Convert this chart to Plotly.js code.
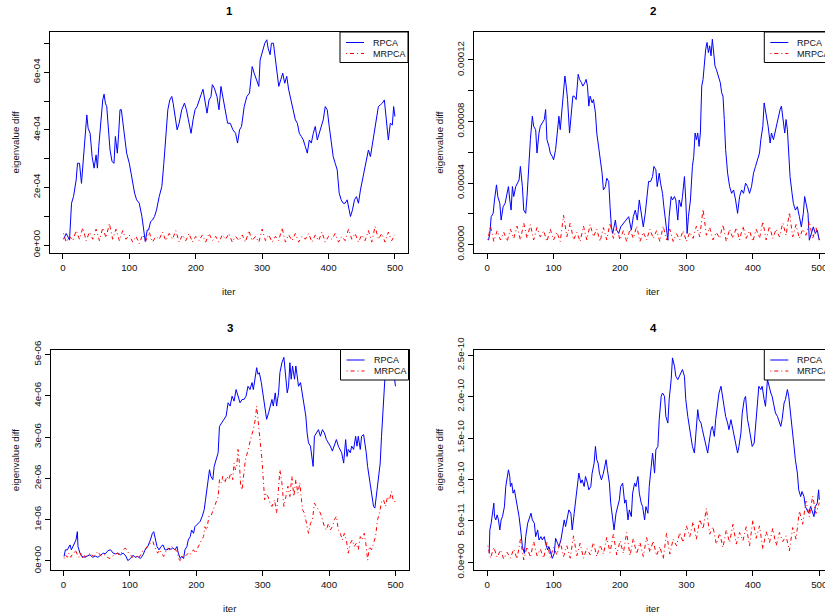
<!DOCTYPE html>
<html><head><meta charset="utf-8">
<script src="https://cdn.plot.ly/plotly-3.0.1.min.js"></script>
<style>html,body{margin:0;padding:0;overflow:hidden;background:#fff;width:825px;height:614px}#chart{width:850px;height:614px}</style>
</head><body><div id="chart"></div>
<script>
// ---------- data: [iter, value] pairs; values in units of the panel scale ----------
const panelTitles = ['1', '2', '3', '4'];
const seriesNames = ['RPCA', 'MRPCA'];
const yScales = [1e-4, 1e-5, 1e-6, 1e-11];

const p1Rpca = [[1,0.2],[5,0.4],[10,0.17],[13,1.45],[16,1.68],[20,2.26],[22,2.84],[25,2.84],[28,2.14],[30,2.78],[33,3.88],[36,4.52],[38,4.06],[41,3.88],[44,3.07],[47,2.67],[50,3.13],[52,2.67],[54,3.42],[57,4.35],[60,5.04],[62,5.24],[64,4.93],[66,4.81],[69,3.88],[71,3.3],[74,2.9],[77,2.84],[79,3.77],[82,3.19],[84,3.88],[86,4.7],[88,4.7],[90,4.35],[93,3.77],[96,3.19],[100,2.84],[104,2.26],[108,1.8],[111,1.57],[115,1.45],[119,0.99],[122,0.52],[124,0.12],[127,0.52],[129,0.52],[132,0.81],[135,0.87],[138,0.99],[141,1.22],[145,1.68],[149,2.03],[152,2.84],[155,3.65],[158,4.7],[161,5.04],[164,5.16],[166,4.93],[169,4.46],[172,4.0],[175,4.23],[179,4.7],[183,4.93],[186,4.7],[189,4.35],[193,3.88],[196,4.35],[199,4.7],[202,4.81],[205,5.04],[208,5.22],[211,5.41],[214,5.04],[217,4.58],[220,5.04],[223,5.16],[225,5.57],[228,5.45],[232,5.16],[235,4.7],[238,5.51],[242,5.04],[245,4.7],[248,4.23],[252,4.23],[256,4.0],[260,3.88],[263,3.54],[266,4.0],[269,4.12],[273,4.81],[277,5.16],[281,5.28],[285,6.2],[288,5.97],[292,5.74],[295,5.51],[297,6.43],[301,6.78],[304,7.01],[307,7.13],[309,6.84],[312,6.61],[314,7.01],[317,7.01],[319,6.67],[322,6.2],[325,5.51],[328,5.74],[331,5.97],[334,5.62],[337,5.86],[340,5.39],[343,5.04],[347,4.7],[350,4.35],[353,4.23],[356,3.88],[359,3.77],[362,3.65],[365,3.42],[368,3.19],[371,3.65],[374,3.54],[377,3.88],[380,4.12],[383,3.65],[386,3.88],[389,4.12],[392,4.35],[395,4.81],[398,4.7],[401,4.12],[404,3.65],[407,3.07],[410,2.84],[413,2.61],[416,1.8],[419,1.57],[422,1.45],[425,1.45],[428,1.57],[431,1.22],[433,0.99],[436,1.22],[439,1.57],[442,1.68],[445,1.45],[448,1.91],[451,2.26],[454,2.61],[457,3.07],[460,3.3],[463,3.07],[466,3.54],[469,3.88],[472,4.46],[475,4.81],[478,4.87],[481,4.93],[484,5.04],[487,4.35],[490,3.65],[493,4.23],[496,4.17],[498,4.81],[500,4.46]];
const p1Mrpca = [[1,0.4],[5,0.1],[10,0.3],[15,0.15],[20,0.5],[25,0.2],[30,0.6],[35,0.15],[40,0.45],[45,0.2],[50,0.55],[55,0.15],[60,0.6],[65,0.25],[70,0.75],[75,0.2],[80,0.55],[85,0.15],[90,0.5],[95,0.2],[100,0.35],[105,0.1],[110,0.3],[115,0.05],[120,0.35],[125,0.15],[130,0.45],[135,0.1],[140,0.3],[145,0.2],[150,0.45],[155,0.15],[160,0.4],[165,0.2],[170,0.5],[175,0.1],[180,0.35],[185,0.15],[190,0.4],[195,0.1],[200,0.3],[205,0.15],[210,0.35],[215,0.1],[220,0.4],[225,0.15],[230,0.3],[235,0.1],[240,0.35],[245,0.2],[250,0.4],[255,0.1],[260,0.3],[265,0.15],[270,0.35],[275,0.1],[280,0.5],[285,0.15],[290,0.3],[295,0.1],[300,0.55],[305,0.15],[310,0.35],[315,0.1],[320,0.3],[325,0.15],[330,0.6],[335,0.1],[340,0.35],[345,0.15],[350,0.4],[355,0.1],[360,0.3],[365,0.2],[370,0.4],[375,0.1],[380,0.35],[385,0.15],[390,0.45],[395,0.1],[400,0.3],[405,0.2],[410,0.4],[415,0.1],[420,0.3],[425,0.15],[430,0.55],[435,0.2],[440,0.4],[445,0.1],[450,0.35],[455,0.15],[460,0.5],[465,0.1],[470,0.65],[475,0.2],[480,0.4],[485,0.1],[490,0.45],[495,0.15],[500,0.35]];

const p2Rpca = [[2,0.28],[4,0.72],[6,1.81],[9,2.03],[11,2.9],[14,3.88],[16,3.12],[19,2.68],[21,1.59],[24,2.46],[27,2.68],[29,3.12],[32,3.77],[34,2.9],[36,2.24],[38,3.77],[40,3.12],[43,3.77],[45,3.99],[48,4.2],[50,5.08],[53,3.77],[55,2.24],[58,2.03],[60,3.12],[63,5.51],[65,6.82],[68,8.34],[70,7.69],[73,7.47],[75,5.95],[78,7.25],[80,7.69],[83,7.91],[86,8.13],[88,8.78],[90,6.82],[93,6.38],[95,5.95],[98,5.73],[100,5.51],[103,6.17],[105,7.25],[108,8.34],[110,7.47],[113,8.78],[115,9.65],[117,10.96],[119,10.3],[121,9.43],[124,7.25],[126,8.13],[129,9.65],[131,9.65],[134,9.43],[137,11.07],[139,10.74],[142,10.52],[144,10.3],[147,10.52],[149,10.74],[151,10.3],[153,9.0],[155,9.65],[158,9.21],[160,9.43],[163,8.56],[165,7.25],[168,6.38],[170,5.73],[173,4.64],[175,3.55],[178,3.77],[180,4.31],[183,4.1],[185,2.46],[187,1.15],[189,0.72],[191,1.15],[193,1.59],[195,0.94],[198,0.72],[201,1.15],[205,1.37],[209,1.59],[213,1.81],[217,0.94],[220,1.81],[223,2.24],[226,1.59],[229,2.9],[232,2.03],[235,1.15],[238,2.03],[241,3.12],[243,4.1],[246,4.1],[249,4.42],[251,5.08],[254,4.86],[256,3.77],[259,4.64],[261,3.99],[264,3.33],[266,2.46],[269,1.37],[272,0.28],[274,1.81],[277,3.12],[279,2.9],[282,3.12],[284,2.9],[287,1.59],[289,2.9],[292,2.46],[294,3.12],[297,4.42],[299,2.9],[301,0.72],[303,1.81],[306,2.9],[309,5.08],[311,5.73],[313,7.25],[315,6.82],[317,7.25],[319,6.38],[321,7.25],[323,10.3],[325,10.74],[327,12.05],[329,12.7],[331,13.14],[333,12.48],[335,12.92],[337,12.27],[339,13.35],[341,12.27],[343,11.61],[345,11.39],[348,10.96],[351,10.52],[353,9.87],[355,9.65],[357,8.13],[359,6.17],[362,4.64],[365,3.77],[368,3.33],[371,3.55],[374,2.9],[377,2.03],[380,3.12],[383,3.55],[386,3.33],[389,3.99],[392,3.77],[395,3.33],[398,3.77],[401,4.64],[404,5.08],[407,5.51],[410,5.95],[412,6.82],[415,7.69],[417,9.21],[419,8.78],[421,8.13],[423,7.69],[426,6.6],[428,7.25],[431,6.82],[434,7.47],[437,7.91],[439,8.56],[441,8.78],[443,9.0],[445,8.34],[448,7.25],[450,8.13],[452,7.47],[454,5.95],[456,4.42],[459,3.33],[461,2.68],[464,2.24],[467,2.46],[470,1.81],[473,1.15],[476,2.03],[478,3.12],[480,2.68],[483,2.03],[485,0.28],[488,0.72],[491,1.15],[494,0.72],[497,0.94],[500,0.28]];
const p2Mrpca = [[1,0.3],[5,1.2],[10,0.2],[15,0.9],[20,0.3],[25,0.8],[30,0.2],[35,1.0],[40,0.4],[45,1.2],[50,0.3],[55,1.4],[60,0.4],[65,1.3],[70,0.3],[75,1.1],[80,0.5],[85,0.9],[90,0.2],[95,1.0],[100,0.3],[105,0.8],[110,0.2],[115,1.9],[120,0.5],[125,1.4],[130,0.3],[135,0.8],[140,0.2],[145,1.2],[150,0.3],[155,1.3],[160,0.5],[165,1.0],[170,0.2],[175,1.1],[180,0.3],[185,1.4],[190,0.4],[195,1.1],[200,0.3],[205,0.9],[210,0.2],[215,1.0],[220,0.4],[225,1.2],[230,0.2],[235,0.8],[240,0.3],[245,1.0],[250,0.4],[255,0.9],[260,0.2],[265,1.2],[270,0.3],[275,1.0],[280,0.2],[285,0.7],[290,0.3],[295,0.9],[300,0.2],[305,0.8],[310,0.4],[315,1.2],[320,0.5],[325,2.3],[330,0.6],[335,1.1],[340,0.3],[345,0.8],[350,0.4],[355,1.3],[360,0.2],[365,1.0],[370,0.4],[375,1.1],[380,0.3],[385,1.2],[390,0.4],[395,0.9],[400,0.2],[405,1.0],[410,0.4],[415,1.5],[420,0.3],[425,1.2],[430,0.4],[435,1.0],[440,0.5],[445,1.4],[450,0.6],[455,2.1],[460,0.5],[465,1.3],[470,0.4],[475,1.0],[480,0.6],[485,1.5],[490,0.4],[495,1.1],[500,0.3]];

const p3Rpca = [[1,0.11],[3,0.27],[6,0.27],[8,0.35],[10,0.39],[12,0.27],[14,0.35],[17,0.43],[19,0.51],[21,0.71],[22,0.35],[25,0.19],[28,0.11],[32,0.09],[36,0.12],[40,0.15],[44,0.09],[48,0.12],[52,0.09],[56,0.15],[60,0.19],[63,0.17],[67,0.25],[71,0.27],[75,0.19],[78,0.17],[82,0.19],[86,0.15],[90,0.19],[94,0.12],[97,0.01],[101,0.06],[105,0.14],[108,0.09],[112,0.11],[116,0.06],[120,0.15],[123,0.27],[127,0.35],[131,0.51],[134,0.67],[136,0.71],[138,0.59],[141,0.35],[144,0.27],[147,0.35],[150,0.39],[153,0.27],[156,0.27],[159,0.31],[162,0.28],[165,0.32],[168,0.27],[171,0.35],[173,0.19],[176,0.06],[178,0.11],[181,0.06],[183,0.27],[186,0.35],[188,0.51],[191,0.59],[193,0.75],[196,0.67],[198,0.83],[201,0.87],[203,0.91],[206,0.96],[209,1.08],[212,1.24],[214,1.48],[217,1.81],[220,2.21],[222,2.05],[225,1.97],[227,2.29],[230,2.45],[233,2.62],[235,3.26],[238,3.34],[241,3.43],[245,3.51],[248,3.83],[251,3.75],[254,3.99],[257,3.87],[260,4.15],[263,3.99],[266,3.83],[269,3.91],[272,3.91],[275,3.99],[278,4.23],[281,4.15],[284,4.32],[286,4.15],[289,4.44],[291,4.68],[293,4.52],[295,4.56],[298,4.32],[300,4.07],[303,3.67],[306,3.43],[309,3.59],[311,3.75],[314,3.91],[316,3.75],[319,4.07],[321,3.75],[324,4.07],[326,4.56],[329,4.8],[332,4.93],[333,4.72],[335,4.4],[337,4.07],[339,4.23],[341,4.8],[343,4.4],[345,4.72],[348,4.4],[350,4.72],[352,4.48],[354,4.23],[357,4.32],[360,3.99],[363,3.75],[365,3.51],[367,3.1],[369,2.86],[372,2.78],[374,2.45],[376,2.29],[378,3.02],[381,3.1],[384,3.18],[387,3.02],[390,3.18],[393,3.1],[396,2.94],[399,2.86],[402,2.78],[405,2.66],[408,2.78],[411,2.94],[414,2.78],[417,2.7],[419,2.62],[422,2.37],[425,2.94],[427,2.53],[429,2.7],[432,2.62],[434,2.78],[437,2.7],[440,3.02],[442,2.78],[444,3.02],[447,2.7],[449,3.02],[452,3.06],[454,2.86],[456,2.62],[458,2.29],[460,2.05],[462,1.81],[465,1.56],[467,1.32],[469,1.28],[471,1.56],[474,2.05],[477,2.37],[479,3.02],[481,3.67],[484,4.4],[486,4.78],[489,4.85],[492,4.64],[495,4.72],[498,4.48],[500,4.23]];
const p3Mrpca = [[1,0.06],[3,0.15],[6,0.09],[8,0.19],[11,0.09],[13,0.15],[16,0.19],[18,0.27],[21,0.15],[23,0.09],[26,0.19],[28,0.06],[31,0.15],[33,0.09],[37,0.15],[41,0.19],[45,0.11],[49,0.19],[52,0.23],[55,0.15],[58,0.11],[62,0.15],[66,0.09],[70,0.06],[73,0.11],[77,0.15],[81,0.19],[84,0.15],[87,0.19],[90,0.27],[93,0.31],[96,0.27],[98,0.19],[101,0.15],[104,0.09],[107,0.12],[110,0.11],[113,0.06],[116,0.15],[118,0.19],[121,0.27],[123,0.28],[126,0.35],[129,0.41],[132,0.43],[135,0.47],[137,0.35],[139,0.27],[142,0.19],[145,0.27],[148,0.19],[151,0.11],[154,0.23],[157,0.31],[160,0.27],[163,0.35],[166,0.28],[169,0.27],[171,0.23],[174,0.04],[176,0.01],[179,0.11],[182,0.09],[185,0.15],[188,0.19],[191,0.15],[193,0.23],[196,0.27],[199,0.19],[202,0.31],[205,0.43],[208,0.51],[211,0.59],[213,0.83],[216,0.75],[219,1.08],[222,1.08],[225,1.2],[228,1.32],[231,1.44],[233,1.56],[235,1.97],[238,1.89],[240,2.05],[243,1.89],[246,2.05],[249,1.97],[252,2.13],[255,1.97],[257,2.37],[259,2.21],[261,2.29],[263,2.7],[265,2.37],[267,1.81],[269,1.72],[271,2.05],[274,2.45],[277,2.62],[280,2.86],[283,3.02],[286,3.18],[289,3.43],[291,3.75],[293,3.43],[295,3.18],[297,2.7],[299,2.45],[301,1.97],[303,1.48],[305,1.64],[308,1.56],[311,1.4],[314,1.32],[318,1.48],[321,1.16],[323,1.56],[326,2.21],[329,1.89],[332,1.32],[335,1.56],[338,1.81],[341,1.56],[344,2.05],[347,1.56],[350,1.97],[353,1.64],[356,1.89],[360,1.24],[363,1.16],[366,0.91],[369,0.67],[372,0.91],[375,1.0],[378,1.4],[381,1.32],[384,1.24],[387,1.16],[390,1.0],[393,0.83],[396,0.75],[399,0.91],[402,0.75],[405,0.83],[408,1.0],[411,1.08],[414,0.75],[417,0.67],[420,0.51],[423,0.67],[426,0.51],[429,0.19],[432,0.43],[435,0.51],[438,0.35],[441,0.43],[444,0.27],[447,0.59],[450,0.51],[453,0.67],[456,0.35],[458,0.02],[461,0.35],[464,0.27],[467,0.43],[470,0.59],[473,1.0],[476,1.16],[479,1.44],[482,1.48],[485,1.32],[488,1.56],[491,1.48],[494,1.68],[497,1.44],[500,1.44]];

const p4Rpca = [[3,1.09],[4,3.91],[6,4.72],[8,5.93],[10,7.14],[11,5.52],[13,5.12],[15,5.73],[17,5.12],[19,3.91],[21,5.12],[23,5.52],[26,6.73],[28,9.15],[30,10.36],[32,11.17],[34,10.36],[35,9.15],[37,9.56],[39,8.35],[41,8.75],[44,7.54],[46,6.73],[48,5.52],[51,3.51],[53,1.9],[56,1.09],[58,3.1],[61,4.72],[63,5.12],[66,5.93],[68,5.12],[71,4.72],[73,3.1],[76,3.91],[78,2.7],[81,3.1],[83,2.7],[86,3.1],[88,2.3],[91,1.49],[93,1.9],[96,1.09],[98,0.48],[101,1.09],[103,2.9],[106,2.3],[108,1.9],[111,2.7],[113,3.51],[116,5.12],[118,4.31],[121,5.52],[123,6.33],[126,5.93],[128,3.91],[131,5.93],[133,7.54],[136,9.15],[138,10.77],[141,9.56],[143,9.96],[146,9.15],[148,10.36],[151,9.56],[153,8.75],[156,9.15],[158,10.77],[161,11.98],[163,13.99],[165,12.38],[167,11.98],[169,10.77],[172,9.96],[175,10.77],[177,11.57],[179,12.38],[181,11.17],[184,9.56],[186,7.14],[189,5.52],[191,3.91],[194,5.93],[196,6.73],[199,7.54],[201,9.15],[204,9.56],[207,7.14],[209,7.54],[212,5.12],[214,6.33],[217,5.52],[219,8.35],[222,9.56],[224,9.15],[227,10.36],[229,8.35],[232,7.14],[234,6.73],[237,5.12],[239,6.73],[242,5.93],[244,9.15],[247,11.57],[249,13.19],[252,10.77],[254,13.59],[257,13.99],[259,17.22],[262,20.04],[264,20.44],[267,20.04],[269,17.62],[272,16.81],[274,19.64],[277,22.06],[279,24.68],[282,23.67],[284,22.46],[287,22.06],[289,22.46],[292,22.86],[294,23.27],[297,22.46],[299,19.64],[302,17.62],[304,16.41],[307,14.8],[309,13.99],[312,13.19],[314,15.6],[317,18.43],[319,17.22],[322,16.81],[324,16.01],[327,14.8],[329,13.99],[332,13.19],[334,14.4],[337,16.01],[339,16.41],[342,15.2],[344,17.22],[347,18.83],[349,20.44],[352,21.25],[354,20.04],[357,18.43],[359,17.62],[362,16.81],[364,16.01],[367,17.22],[369,16.41],[372,15.6],[374,14.4],[377,13.19],[379,13.99],[382,15.6],[384,18.02],[387,19.64],[389,20.04],[392,17.22],[394,16.41],[397,14.8],[399,13.99],[402,14.4],[404,16.41],[407,18.83],[409,21.25],[412,20.85],[414,21.25],[417,19.64],[419,18.83],[422,22.06],[424,21.25],[427,20.44],[429,20.04],[432,18.83],[434,18.02],[437,17.62],[439,17.22],[442,16.41],[444,17.22],[447,19.23],[449,19.64],[452,20.85],[454,20.04],[457,18.02],[459,16.01],[462,13.99],[464,12.38],[467,10.77],[469,8.75],[472,7.94],[474,8.55],[477,7.94],[479,6.73],[482,6.33],[484,5.93],[487,6.73],[489,6.13],[492,5.52],[494,6.73],[497,7.14],[499,8.75],[500,7.54]];
const p4Mrpca = [[1,2.0],[5,0.5],[10,1.8],[15,0.6],[20,1.5],[25,0.4],[30,1.2],[35,0.5],[40,1.6],[45,0.4],[50,2.8],[55,0.3],[60,1.9],[65,0.6],[70,2.5],[75,0.8],[80,1.6],[85,0.5],[90,2.4],[95,0.6],[100,1.8],[105,0.9],[110,2.5],[115,0.7],[120,2.0],[125,0.5],[130,3.2],[135,0.8],[140,2.3],[145,0.5],[150,1.7],[155,0.9],[160,2.4],[165,0.7],[170,2.1],[175,1.0],[180,3.0],[185,1.2],[190,3.4],[195,0.9],[200,2.6],[205,1.1],[210,3.6],[215,0.8],[220,2.9],[225,1.0],[230,2.4],[235,0.7],[240,3.0],[245,1.2],[250,2.6],[255,0.8],[260,1.9],[265,0.4],[270,3.5],[275,1.0],[280,2.8],[285,2.0],[290,3.6],[295,2.4],[300,4.4],[305,3.1],[310,4.9],[315,2.8],[320,5.2],[325,4.0],[330,6.5],[335,3.4],[340,4.3],[345,2.2],[350,3.5],[355,1.8],[360,3.9],[365,2.4],[370,4.6],[375,2.2],[380,3.6],[385,2.6],[390,4.3],[395,2.0],[400,5.1],[405,2.9],[410,4.4],[415,1.6],[420,3.7],[425,2.4],[430,4.1],[435,2.0],[440,3.6],[445,2.5],[450,3.2],[455,1.4],[460,4.2],[465,2.8],[470,6.2],[475,4.6],[480,7.4],[485,5.5],[490,8.0],[495,5.9],[500,7.2]];

const xTickVals = [0, 100, 200, 300, 400, 500];
const xTickText = ['0', '100', '200', '300', '400', '500'];
const yTickVals = [
  [0, 1e-4, 2e-4, 3e-4, 4e-4, 5e-4, 6e-4, 7e-4],
  [0, 2e-5, 4e-5, 6e-5, 8e-5, 10e-5, 12e-5],
  [0, 1e-6, 2e-6, 3e-6, 4e-6, 5e-6],
  [0, 5e-11, 10e-11, 15e-11, 20e-11, 25e-11]
];
const yTickText = [
  ['0e+00', '', '2e-04', '', '4e-04', '', '6e-04', ''],
  ['0.00000', '', '0.00004', '', '0.00008', '', '0.00012'],
  ['0e+00', '1e-06', '2e-06', '3e-06', '4e-06', '5e-06'],
  ['0.0e+00', '5.0e-11', '1.0e-10', '1.5e-10', '2.0e-10', '2.5e-10']
];
const xAxisTitle = 'iter';
const yAxisTitle = 'eigenvalue diff';

// ---------- layout geometry (pixels) ----------
const W = 850, H = 614;
const boxes = [
  {L: 50, R: 408, T: 32, B: 253},
  {L: 474.3, R: 832.3, T: 32, B: 253},
  {L: 50.5, R: 408.5, T: 349.5, B: 570},
  {L: 474.3, R: 832.3, T: 349.5, B: 570}
];
const xRange = [-19.4, 519.6];
const yRanges = [[-0.278e-4, 7.40e-4], [-0.55e-5, 13.82e-5], [-0.218e-6, 5.12e-6], [-0.925e-11, 25.69e-11]];
const titleY = [11, 11, 328, 328];
const xTitleY = [291, 291, 608, 608];

const rpcaSeries = [p1Rpca, p2Rpca, p3Rpca, p4Rpca];
const mrpcaSeries = [p1Mrpca, p2Mrpca, p3Mrpca, p4Mrpca];

const BLUE = '#0000FF', RED = '#FF0000', DASH = '1px,3px,4px,3px';
const FONT = 'Liberation Sans, Arial, sans-serif';
const px = v => v / W, py = v => 1 - v / H;

const traces = [];
const layout = {
  width: W, height: H, autosize: false,
  margin: {l: 0, r: 0, t: 0, b: 0, pad: 0},
  paper_bgcolor: '#fff', plot_bgcolor: '#fff',
  showlegend: false,
  font: {family: FONT, color: '#000', size: 10},
  shapes: [], annotations: []
};

boxes.forEach((b, i) => {
  const sfx = i === 0 ? '' : String(i + 1);
  const sc = yScales[i];
  traces.push({
    x: rpcaSeries[i].map(p => p[0]), y: rpcaSeries[i].map(p => p[1] * sc),
    xaxis: 'x' + sfx, yaxis: 'y' + sfx, type: 'scatter', mode: 'lines', name: seriesNames[0],
    line: {color: BLUE, width: 1}, hoverinfo: 'skip'
  });
  traces.push({
    x: mrpcaSeries[i].map(p => p[0]), y: mrpcaSeries[i].map(p => p[1] * sc),
    xaxis: 'x' + sfx, yaxis: 'y' + sfx, type: 'scatter', mode: 'lines', name: seriesNames[1],
    line: {color: RED, width: 1, dash: DASH}, hoverinfo: 'skip'
  });
  const common = {
    showline: true, linecolor: '#000', linewidth: 1, mirror: true,
    ticks: 'outside', ticklen: 5, tickwidth: 1, tickcolor: '#000',
    showgrid: false, zeroline: false, fixedrange: true,
    tickfont: {family: FONT, size: 9.7, color: '#111'}
  };
  layout['xaxis' + sfx] = Object.assign({}, common, {
    domain: [px(b.L), px(b.R)], range: xRange, anchor: 'y' + sfx,
    tickmode: 'array', tickvals: xTickVals, ticktext: xTickText
  });
  layout['yaxis' + sfx] = Object.assign({}, common, {
    domain: [py(b.B), py(b.T)], range: yRanges[i], anchor: 'x' + sfx,
    tickmode: 'array', tickvals: yTickVals[i], ticktext: yTickText[i], tickangle: -90
  });
  // titles
  layout.annotations.push({xref: 'paper', yref: 'paper', x: px((b.L + b.R) / 2), y: py(titleY[i]),
    xanchor: 'center', yanchor: 'middle', showarrow: false, text: '<b>' + panelTitles[i] + '</b>',
    font: {family: FONT, size: 11.5, color: '#000'}});
  layout.annotations.push({xref: 'paper', yref: 'paper', x: px((b.L + b.R) / 2), y: py(xTitleY[i]),
    xanchor: 'center', yanchor: 'middle', showarrow: false, text: xAxisTitle,
    font: {family: FONT, size: 9.7, color: '#111'}});
  layout.annotations.push({xref: 'paper', yref: 'paper', x: px(b.L - 35), y: py((b.T + b.B) / 2),
    xanchor: 'center', yanchor: 'middle', showarrow: false, text: yAxisTitle, textangle: -90,
    font: {family: FONT, size: 9.7, color: '#111'}});
  // legend box (R style, top-right, opaque)
  layout.shapes.push({type: 'rect', xref: 'paper', yref: 'paper', layer: 'above',
    x0: px(b.R - 68), x1: px(b.R), y0: py(b.T + 30.5), y1: py(b.T),
    fillcolor: '#fff', line: {color: '#000', width: 1}});
  layout.shapes.push({type: 'line', xref: 'paper', yref: 'paper', layer: 'above',
    x0: px(b.R - 62), x1: px(b.R - 44), y0: py(b.T + 10.5), y1: py(b.T + 10.5),
    line: {color: BLUE, width: 1}});
  layout.shapes.push({type: 'line', xref: 'paper', yref: 'paper', layer: 'above',
    x0: px(b.R - 62), x1: px(b.R - 44), y0: py(b.T + 21.5), y1: py(b.T + 21.5),
    line: {color: RED, width: 1, dash: DASH}});
  seriesNames.forEach((nm, k) => {
    layout.annotations.push({xref: 'paper', yref: 'paper', x: px(b.R - 37), y: py(b.T + 10.5 + 11 * k),
      xanchor: 'left', yanchor: 'middle', showarrow: false, text: nm,
      font: {family: FONT, size: 9, color: '#111'}});
  });
});

Plotly.newPlot('chart', traces, layout, {displayModeBar: false, staticPlot: true});
</script></body></html>
